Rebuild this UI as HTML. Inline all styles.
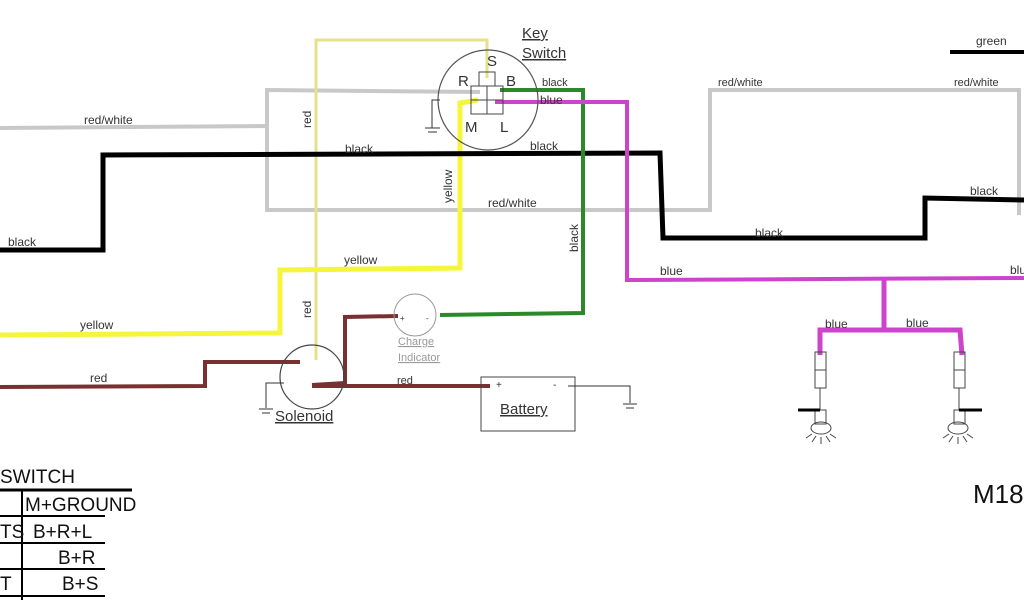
<!DOCTYPE html>
<html><head><meta charset="utf-8"><style>
body{margin:0;background:#fff;width:1024px;height:600px;overflow:hidden}
svg{display:block}
text{font-family:"Liberation Sans",sans-serif;fill:#333}
</style></head><body>
<svg width="1024" height="600" viewBox="0 0 1024 600" xmlns="http://www.w3.org/2000/svg">
<g fill="none" stroke-linejoin="miter">
<polyline points="0,128 267,126" stroke="#c8c8c8" stroke-width="4"/>
<polyline points="480,92 267,90 267,210 710,210 710,90 1019,90 1019,215" stroke="#c8c8c8" stroke-width="4"/>
<polyline points="316,360 316,40 487,40 487,78" stroke="#e6e08c" stroke-width="3"/>
<polyline points="0,335 280,333 280,270 460,268 460,103 478,100" stroke="#f5f53c" stroke-width="5"/>
<polyline points="0,250 103,250 103,155 660,153 663,238 925,238 925,198 1024,200" stroke="#000" stroke-width="5"/>
<polyline points="500,90 583,90 583,313 440,315" stroke="#2a8a2a" stroke-width="4"/>
<polyline points="495,102 627,102 627,280 1024,278" stroke="#cc44cc" stroke-width="4"/>
<polyline points="884,280 884,328" stroke="#cc44cc" stroke-width="5"/>
<polyline points="820,355 820,330 960,330 962,355" stroke="#cc44cc" stroke-width="5"/>
<polyline points="0,387 205,386 205,362 300,362" stroke="#7a3030" stroke-width="4"/>
<polyline points="312,385 345,383 345,317 398,316" stroke="#7a3030" stroke-width="4"/>
<polyline points="312,386 490,386" stroke="#7a3030" stroke-width="4"/>
<circle cx="488" cy="100" r="50" stroke="#555" stroke-width="1.2"/>
<rect x="479" y="72" width="16" height="14" stroke="#444"/>
<rect x="471" y="86" width="32" height="28" stroke="#444"/>
<line x1="487" y1="86" x2="487" y2="114" stroke="#444"/>
<line x1="471" y1="100" x2="503" y2="100" stroke="#444"/>
<polyline points="440,100 432,100 432,128" stroke="#333"/>
<line x1="425" y1="128" x2="440" y2="128" stroke="#333"/>
<line x1="428" y1="132" x2="437" y2="132" stroke="#333"/>
<circle cx="312" cy="377" r="32" stroke="#444" stroke-width="1.2"/>
<polyline points="284,383 266,383 266,408" stroke="#333"/>
<line x1="259" y1="409" x2="273" y2="409" stroke="#333"/>
<line x1="262" y1="413" x2="270" y2="413" stroke="#333"/>
<circle cx="415" cy="315" r="21" stroke="#999"/>
<rect x="481" y="377" width="94" height="54" stroke="#444"/>
<polyline points="568,386 630,386 630,403" stroke="#333"/>
<line x1="623" y1="404" x2="637" y2="404" stroke="#333"/>
<line x1="626" y1="408" x2="634" y2="408" stroke="#333"/>
<rect x="815" y="352" width="11" height="36" stroke="#444"/>
<line x1="815" y1="370" x2="826" y2="370" stroke="#444"/>
<line x1="820" y1="388" x2="820" y2="410" stroke="#444"/>
<rect x="815" y="410" width="11" height="14" stroke="#444"/>
<ellipse cx="821" cy="428" rx="10" ry="6" stroke="#444"/>
<path d="M806,438 L812,434 M812,442 L816,436 M821,444 L821,437 M830,442 L826,436 M836,438 L830,434" stroke="#444"/>
<line x1="798" y1="410" x2="820" y2="410" stroke="#000" stroke-width="3"/>
<rect x="954" y="352" width="11" height="36" stroke="#444"/>
<line x1="954" y1="370" x2="965" y2="370" stroke="#444"/>
<line x1="959" y1="388" x2="959" y2="410" stroke="#444"/>
<rect x="954" y="410" width="11" height="14" stroke="#444"/>
<ellipse cx="958" cy="428" rx="10" ry="6" stroke="#444"/>
<path d="M943,438 L949,434 M949,442 L953,436 M958,444 L958,437 M967,442 L963,436 M973,438 L967,434" stroke="#444"/>
<line x1="959" y1="410" x2="982" y2="410" stroke="#000" stroke-width="3"/>
<line x1="950" y1="52" x2="1024" y2="52" stroke="#000" stroke-width="4"/>
<line x1="0" y1="490" x2="132" y2="490" stroke="#000" stroke-width="3"/>
<line x1="0" y1="516" x2="105" y2="516" stroke="#000" stroke-width="2"/>
<line x1="0" y1="543" x2="105" y2="543" stroke="#000" stroke-width="2"/>
<line x1="0" y1="569" x2="105" y2="569" stroke="#000" stroke-width="2"/>
<line x1="0" y1="596" x2="105" y2="596" stroke="#000" stroke-width="2"/>
<line x1="22" y1="490" x2="22" y2="600" stroke="#000" stroke-width="2"/>
</g>
<g font-size="12">
<text x="84" y="124">red/white</text>
<text x="8" y="246">black</text>
<text x="80" y="329">yellow</text>
<text x="90" y="382">red</text>
<text x="345" y="153">black</text>
<text x="530" y="150">black</text>
<text x="344" y="264">yellow</text>
<text x="488" y="207">red/white</text>
<text x="397" y="384" font-size="11">red</text>
<text x="542" y="86" font-size="11">black</text>
<text x="540" y="104">blue</text>
<text x="718" y="86" font-size="11">red/white</text>
<text x="954" y="86" font-size="11">red/white</text>
<text x="976" y="45">green</text>
<text x="970" y="195">black</text>
<text x="755" y="237">black</text>
<text x="660" y="275">blue</text>
<text x="1010" y="274">blue</text>
<text x="825" y="328">blue</text>
<text x="906" y="327">blue</text>
<text transform="translate(311,128) rotate(-90)">red</text>
<text transform="translate(311,318) rotate(-90)">red</text>
<text transform="translate(452,203) rotate(-90)">yellow</text>
<text transform="translate(578,252) rotate(-90)">black</text>
</g>
<g font-size="15">
<text x="522" y="38" text-decoration="underline">Key</text>
<text x="522" y="58" text-decoration="underline">Switch</text>
<text x="487" y="66">S</text><text x="458" y="86">R</text><text x="506" y="86">B</text>
<text x="465" y="132">M</text><text x="500" y="132">L</text>
<text x="275" y="421" text-decoration="underline">Solenoid</text>
<text x="500" y="414" text-decoration="underline">Battery</text>
<text x="496" y="388" font-size="10">+</text><text x="553" y="388" font-size="10">-</text>
</g>
<text x="398" y="345" font-size="11" style="fill:#999" text-decoration="underline">Charge</text>
<text x="398" y="361" font-size="11" style="fill:#999" text-decoration="underline">Indicator</text>
<text x="400" y="321" font-size="8">+</text><text x="426" y="321" font-size="8">-</text>
<g font-size="19">
<text x="0" y="483" style="fill:#111">SWITCH</text>
<text x="25" y="511" style="fill:#111">M+GROUND</text>
<text x="0" y="538" style="fill:#111">TS</text><text x="33" y="538" style="fill:#111">B+R+L</text>
<text x="58" y="564" style="fill:#111">B+R</text>
<text x="0" y="590" style="fill:#111">T</text><text x="62" y="590" style="fill:#111">B+S</text>
</g>
<text x="973" y="503" font-size="26" style="fill:#111">M18</text>
</svg>
</body></html>
